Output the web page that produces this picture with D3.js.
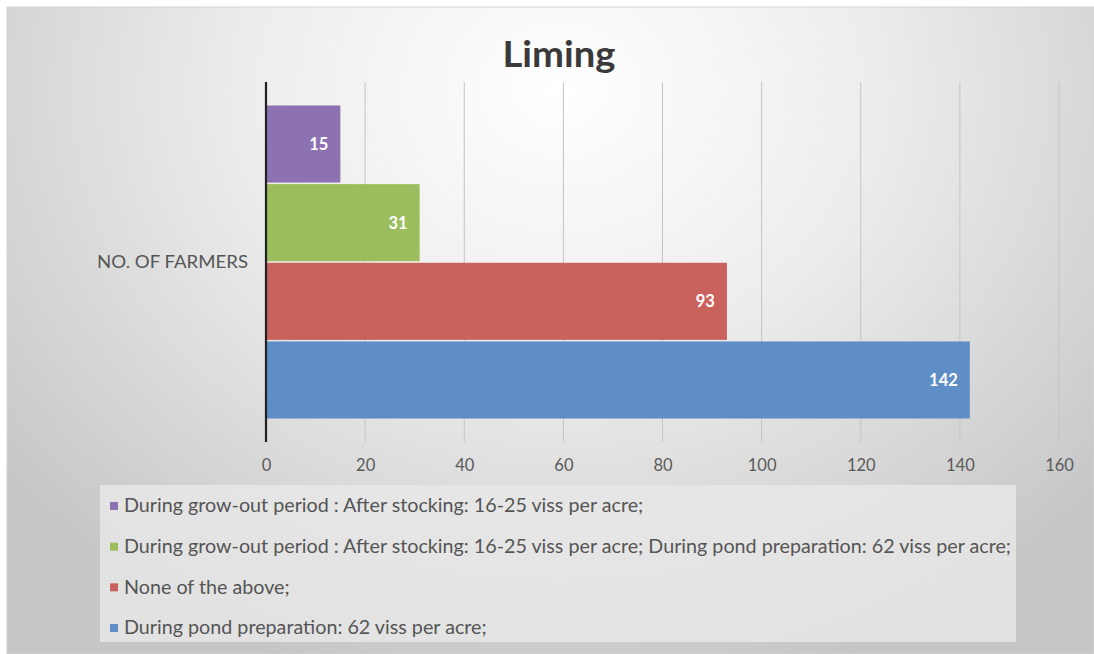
<!DOCTYPE html>
<html><head><meta charset="utf-8">
<script src="https://cdn.jsdelivr.net/npm/d3@7"></script>
<style>html,body{margin:0;padding:0;background:#fff;}svg{display:block;}</style>
</head><body>
<script>
const title = "Liming";
const category = "NO. OF FARMERS";
const seriesNames = [
  "During grow-out period : After stocking: 16-25 viss per acre;",
  "During grow-out period : After stocking: 16-25 viss per acre; During pond preparation: 62 viss per acre;",
  "None of the above;",
  "During pond preparation: 62 viss per acre;"
];
const seriesValues = [15, 31, 93, 142];
const seriesColors = ["#8c72b1", "#9cbd5d", "#c9615d", "#5f8ec6"];
const xTicks = [0, 20, 40, 60, 80, 100, 120, 140, 160];

const W = 1094, H = 654;
const font = "Lato, 'Open Sans', sans-serif";
const svg = d3.select("body").append("svg").attr("width", W).attr("height", H);

const defs = svg.append("defs");
const rg = defs.append("radialGradient").attr("id", "bg")
  .attr("gradientUnits", "userSpaceOnUse")
  .attr("cx", 560).attr("cy", 90).attr("r", 720)
  .attr("gradientTransform", "translate(560,90) scale(1,0.85) translate(-560,-90)");
rg.append("stop").attr("offset", "0").attr("stop-color", "#ffffff");
rg.append("stop").attr("offset", "0.45").attr("stop-color", "#ececec");
rg.append("stop").attr("offset", "1").attr("stop-color", "#c6c6c6");

svg.append("rect").attr("x", 0).attr("y", 0).attr("width", W).attr("height", H).attr("fill", "#ffffff");
svg.append("rect").attr("x", 7).attr("y", 7).attr("width", W - 7).attr("height", H - 7)
  .attr("fill", "url(#bg)").attr("stroke", "#d4d4d4").attr("stroke-width", 1);

const plot = {left: 266, right: 1059, top: 82, bottom: 442};
const x = d3.scaleLinear().domain([0, 160]).range([plot.left, plot.right]);
const yCat = d3.scaleBand().domain([category]).range([plot.top, plot.bottom]).paddingOuter(0.075).paddingInner(0);
const ySer = d3.scaleBand().domain(seriesNames).range([0, yCat.bandwidth()]).paddingInner(0.02);

// gridlines
svg.append("g").selectAll("line").data(xTicks.slice(1)).join("line")
  .attr("x1", d => x(d)).attr("x2", d => x(d))
  .attr("y1", plot.top).attr("y2", plot.bottom)
  .attr("stroke", "#c4c4c4").attr("stroke-width", 1);

// bars
const bars = svg.append("g");
seriesNames.forEach((s, i) => {
  const y0 = yCat(category) + ySer(s);
  bars.append("rect").attr("x", x(0)).attr("y", y0)
    .attr("width", x(seriesValues[i]) - x(0)).attr("height", ySer.bandwidth())
    .attr("fill", seriesColors[i]);
  bars.append("text").attr("x", x(seriesValues[i]) - 12).attr("y", y0 + ySer.bandwidth() / 2)
    .attr("text-anchor", "end").attr("dominant-baseline", "central")
    .attr("font-family", font).attr("font-weight", "bold").attr("font-size", 16.5)
    .attr("fill", "#ffffff").text(seriesValues[i]);
});

// axis line at 0
svg.append("line").attr("x1", x(0)).attr("x2", x(0)).attr("y1", plot.top).attr("y2", plot.bottom)
  .attr("stroke", "#222").attr("stroke-width", 2.2);

// x axis labels
const xAxis = d3.axisBottom(x).tickValues(xTicks).tickSize(0).tickPadding(0);
const gx = svg.append("g").attr("transform", `translate(0,${plot.bottom + 17})`).call(xAxis);
gx.select(".domain").remove();
gx.selectAll("text").attr("font-family", font).attr("font-size", 16.5).attr("fill", "#5a5a5a")
  .attr("dy", "0.72em");

// category label
svg.append("text").attr("x", 248).attr("y", yCat(category) + yCat.bandwidth() / 2).attr("dy", "0.35em")
  .attr("text-anchor", "end").attr("font-family", font).attr("font-size", 17).attr("fill", "#555")
  .attr("textLength", 151).attr("lengthAdjust", "spacingAndGlyphs")
  .text(category);

// title
svg.append("text").attr("x", 559).attr("y", 67).attr("text-anchor", "middle")
  .attr("font-family", font).attr("font-weight", "bold").attr("font-size", 37).attr("fill", "#3a3a3a")
  .attr("textLength", 113).attr("lengthAdjust", "spacingAndGlyphs")
  .text(title);

// legend
const leg = svg.append("g");
leg.append("rect").attr("x", 100).attr("y", 485).attr("width", 916).attr("height", 157)
  .attr("fill", "#e9e9e9").attr("opacity", 0.8);
const legendY = d3.scalePoint().domain(seriesNames).range([506, 628]);
const legendFont = 18.5;
seriesNames.forEach((s, i) => {
  const cy = legendY(s);
  leg.append("rect").attr("x", 110).attr("y", cy - 4).attr("width", 8).attr("height", 8).attr("fill", seriesColors[i]);
  leg.append("text").attr("class", "lt").attr("x", 124).attr("y", cy).attr("dy", "0.35em")
    .attr("font-family", font).attr("font-size", legendFont).attr("fill", "#555").text(s);
});
// fit longest entry to the reference width
const lt = leg.selectAll("text.lt");
const maxW = d3.max(lt.nodes(), n => n.getComputedTextLength());
const target = 887;
lt.each(function() {
  const w = this.getComputedTextLength();
  this.setAttribute("textLength", w * target / maxW);
  this.setAttribute("lengthAdjust", "spacingAndGlyphs");
});
</script>
</body></html>
